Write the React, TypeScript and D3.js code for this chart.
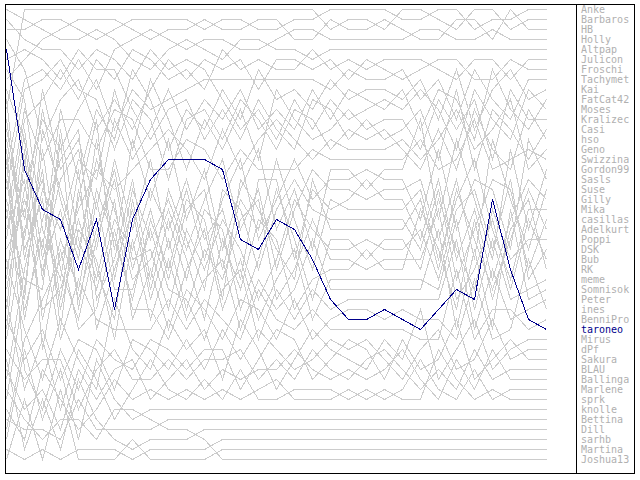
import React from 'react';
import * as d3 from 'd3';

// Player names, in the order of the legend (final standing)
const players = [
  'Anke', 'Barbaros', 'HB', 'Holly', 'Altpap', 'Julicon', 'Froschi', 'Tachymet', 'Kai', 'FatCat42',
  'Moses', 'Kralizec', 'Casi', 'hso', 'Geno', 'Swizzina', 'Gordon99', 'Sasls', 'Suse', 'Gilly',
  'Mika', 'casillas', 'Adelkurt', 'Poppi', 'DSK', 'Bub', 'RK', 'meme', 'Somnisok', 'Peter',
  'ines', 'BenniPro', 'taroneo', 'Mirus', 'dPf', 'Sakura', 'BLAU', 'Ballinga', 'Marlene', 'sprk',
  'knolle', 'Bettina', 'Dill', 'sarhb', 'Martina', 'Joshua13',
];
const highlighted = 'taroneo';

// Ranks of the highlighted player per round
const taroneo = [4, 16, 20, 21, 26, 21, 30, 21, 17, 15, 15, 15, 16, 23, 24, 21, 22, 25, 29, 31, 31, 30, 31, 32, 30, 28, 29, 19, 26, 31, 32];

// Estimated standings of the other players per round
const anke = [3, 2, 1, 1, 2, 3, 2, 1, 1, 1, 1, 2, 1, 1, 2, 2, 1, 1, 0, 0, 0, 0, 1, 1, 0, 0, 2, 1, 1, 0, 0];
const barbaros = [12, 0, 0, 0, 0, 0, 0, 0, 0, 0, 0, 0, 0, 0, 0, 0, 0, 0, 2, 1, 1, 2, 0, 0, 1, 2, 0, 0, 2, 1, 1];
const hb = [8, 6, 4, 2, 1, 1, 1, 2, 3, 2, 2, 1, 2, 2, 1, 1, 3, 3, 1, 2, 2, 1, 2, 3, 3, 1, 1, 3, 0, 2, 2];
const holly = [18, 10, 7, 9, 5, 8, 4, 3, 2, 3, 4, 3, 3, 4, 4, 3, 2, 2, 3, 3, 3, 3, 3, 2, 2, 3, 3, 2, 3, 3, 3];
const altpap = [0, 1, 2, 3, 3, 2, 3, 5, 6, 4, 3, 4, 5, 3, 3, 4, 4, 5, 4, 4, 4, 4, 4, 4, 4, 4, 4, 4, 4, 4, 4];
const julicon = [25, 14, 11, 6, 9, 5, 7, 4, 5, 7, 6, 8, 4, 6, 5, 6, 6, 4, 6, 5, 6, 5, 5, 5, 6, 8, 5, 6, 7, 5, 5];
const froschi = [5, 8, 15, 10, 7, 13, 9, 12, 8, 5, 7, 5, 7, 5, 8, 5, 5, 7, 5, 7, 5, 6, 7, 6, 5, 5, 7, 8, 5, 6, 6];
const tachymet = [30, 20, 13, 17, 11, 7, 12, 8, 11, 9, 8, 7, 7, 7, 7, 7, 7, 7, 8, 6, 7, 7, 6, 10, 6, 12, 5, 9, 12, 6, 7];
const kai = [33, 18, 26, 12, 19, 10, 14, 6, 9, 13, 10, 12, 8, 11, 6, 9, 8, 10, 7, 9, 8, 8, 9, 6, 12, 7, 13, 8, 6, 10, 8];
const fatcat42 = [14, 24, 9, 19, 14, 22, 11, 16, 13, 8, 12, 9, 11, 8, 12, 10, 12, 8, 11, 8, 9, 10, 8, 13, 7, 10, 14, 6, 11, 13, 9];
const moses = [2, 3, 5, 4, 6, 4, 5, 7, 4, 6, 5, 6, 9, 12, 10, 13, 9, 12, 9, 11, 10, 9, 10, 7, 11, 14, 8, 12, 14, 8, 10];
const kralizec = [38, 29, 20, 25, 16, 19, 8, 14, 7, 11, 15, 11, 14, 10, 14, 8, 11, 14, 12, 10, 12, 11, 11, 14, 9, 13, 10, 15, 9, 12, 11];
const casi = [6, 4, 6, 7, 4, 6, 6, 10, 14, 10, 9, 14, 10, 13, 9, 12, 14, 9, 10, 13, 11, 13, 12, 11, 15, 9, 16, 11, 13, 15, 12];
const hso = [20, 11, 8, 5, 8, 9, 16, 9, 12, 15, 11, 10, 13, 9, 11, 14, 10, 11, 14, 12, 13, 12, 14, 16, 12, 16, 12, 14, 16, 11, 13];
const geno = [42, 36, 31, 27, 23, 18, 20, 17, 15, 12, 14, 16, 12, 15, 13, 11, 13, 16, 13, 14, 14, 14, 13, 15, 14, 11, 15, 13, 10, 15, 14];
const swizzina = [23, 13, 17, 14, 12, 16, 10, 11, 17, 14, 13, 15, 15, 14, 16, 15, 16, 15, 16, 15, 15, 15, 16, 13, 17, 15, 12, 17, 15, 14, 15];
const gordon99 = [15, 26, 11, 22, 28, 15, 25, 13, 21, 12, 24, 15, 27, 19, 13, 25, 18, 28, 17, 17, 19, 17, 16, 12, 24, 13, 20, 29, 14, 23, 16];
const sasls = [29, 15, 27, 20, 15, 26, 16, 24, 16, 26, 17, 29, 20, 14, 27, 21, 15, 22, 18, 18, 18, 18, 18, 24, 14, 26, 16, 21, 28, 13, 17];
const suse = [34, 25, 19, 31, 21, 12, 29, 19, 25, 18, 28, 20, 14, 26, 19, 30, 22, 16, 19, 19, 19, 19, 20, 16, 27, 18, 29, 13, 20, 27, 18];
const gilly = [9, 16, 29, 15, 26, 29, 22, 27, 18, 23, 15, 26, 21, 30, 16, 18, 27, 21, 21, 20, 18, 20, 21, 26, 17, 30, 21, 31, 23, 16, 19];
const mika = [39, 31, 16, 28, 33, 24, 18, 29, 22, 30, 22, 17, 28, 21, 25, 14, 23, 28, 20, 21, 21, 21, 21, 18, 29, 22, 15, 24, 30, 21, 20];
const casillas = [16, 34, 23, 18, 13, 31, 27, 18, 28, 16, 27, 31, 18, 24, 29, 24, 17, 23, 22, 22, 22, 22, 22, 28, 19, 31, 25, 17, 19, 29, 21];
const adelkurt = [24, 19, 33, 25, 30, 20, 24, 32, 23, 29, 19, 24, 32, 18, 22, 27, 30, 19, 23, 23, 23, 23, 23, 20, 30, 19, 27, 32, 25, 18, 22];
const poppi = [11, 28, 18, 34, 20, 27, 32, 22, 30, 21, 31, 22, 25, 33, 27, 20, 25, 31, 24, 24, 26, 24, 23, 30, 21, 27, 32, 21, 28, 24, 23];
const dsk = [28, 21, 28, 22, 31, 23, 17, 27, 26, 33, 26, 29, 23, 27, 32, 28, 21, 26, 25, 25, 25, 25, 25, 25, 31, 23, 19, 27, 17, 30, 24];
const bub = [7, 12, 24, 29, 18, 34, 27, 23, 31, 25, 33, 27, 30, 24, 20, 32, 29, 24, 26, 26, 27, 25, 26, 29, 23, 32, 30, 23, 31, 22, 25];
const rk = [19, 32, 14, 21, 27, 16, 21, 30, 27, 20, 29, 34, 26, 31, 24, 26, 33, 29, 27, 27, 25, 27, 28, 23, 27, 33, 22, 33, 24, 20, 26];
const meme = [26, 22, 32, 30, 23, 28, 20, 34, 27, 34, 30, 25, 33, 28, 34, 30, 26, 33, 28, 28, 28, 28, 28, 31, 32, 24, 33, 26, 32, 31, 27];
const somnisok = [13, 27, 21, 32, 25, 26, 34, 25, 33, 28, 35, 30, 27, 35, 30, 33, 31, 27, 29, 29, 29, 29, 29, 32, 25, 34, 28, 34, 21, 32, 28];
const peter = [21, 29, 30, 16, 32, 21, 30, 31, 24, 31, 32, 35, 31, 29, 35, 31, 34, 30, 30, 30, 30, 30, 30, 33, 33, 26, 34, 29, 33, 33, 29];
const ines = [31, 17, 34, 26, 34, 32, 23, 33, 32, 35, 31, 33, 35, 32, 33, 36, 32, 35, 31, 31, 31, 31, 31, 34, 34, 35, 31, 35, 34, 28, 30];
const bennipro = [22, 33, 25, 35, 29, 33, 33, 35, 34, 32, 36, 32, 34, 36, 31, 34, 36, 32, 32, 32, 32, 32, 32, 35, 35, 30, 35, 33, 32, 34, 31];
const mirus = [27, 35, 38, 33, 36, 40, 31, 36, 39, 33, 38, 34, 40, 33, 37, 41, 38, 33, 36, 35, 37, 34, 36, 33, 38, 35, 33, 37, 35, 34, 33];
const dpf = [32, 37, 33, 39, 35, 37, 41, 35, 36, 40, 36, 39, 34, 38, 34, 36, 39, 38, 33, 34, 33, 36, 38, 35, 34, 37, 36, 33, 36, 35, 34];
const sakura = [17, 38, 40, 36, 41, 36, 37, 39, 34, 36, 40, 37, 36, 41, 37, 35, 36, 40, 37, 33, 35, 38, 34, 37, 36, 33, 38, 36, 34, 36, 35];
const blau = [35, 39, 35, 38, 42, 38, 34, 40, 39, 37, 40, 38, 37, 37, 40, 38, 39, 37, 37, 37, 36, 35, 37, 39, 37, 39, 35, 38, 37, 37, 36];
const ballinga = [36, 41, 38, 43, 39, 40, 38, 37, 42, 40, 38, 41, 39, 40, 38, 39, 37, 39, 38, 36, 38, 37, 35, 38, 40, 36, 39, 35, 38, 38, 37];
const marlene = [30, 40, 33, 42, 35, 39, 43, 41, 38, 41, 42, 40, 41, 39, 42, 41, 40, 41, 39, 39, 39, 40, 39, 36, 39, 40, 37, 40, 39, 39, 38];
const sprk = [40, 43, 36, 41, 43, 41, 40, 42, 40, 42, 41, 43, 40, 42, 41, 40, 42, 41, 40, 38, 40, 39, 40, 40, 35, 38, 40, 39, 40, 40, 39];
const knolle = [44, 36, 42, 38, 43, 37, 42, 43, 42, 42, 42, 43, 42, 42, 42, 42, 42, 42, 41, 40, 40, 40, 40, 42, 42, 41, 42, 40, 41, 40, 40];
const bettina = [41, 42, 43, 44, 41, 43, 43, 44, 43, 43, 43, 43, 42, 42, 42, 42, 42, 42, 42, 41, 41, 41, 41, 42, 43, 42, 42, 42, 42, 41, 41];
const dill = [35, 44, 38, 45, 40, 42, 44, 45, 44, 44, 44, 44, 43, 43, 43, 43, 43, 43, 43, 42, 42, 42, 42, 43, 44, 43, 43, 43, 43, 42, 42];
const sarhb = [45, 45, 44, 46, 44, 44, 45, 46, 45, 45, 45, 45, 44, 44, 44, 44, 44, 44, 44, 43, 43, 43, 43, 44, 45, 44, 44, 44, 44, 43, 43];
const martina = [46, 40, 46, 39, 46, 45, 46, 44, 46, 46, 46, 46, 45, 45, 45, 45, 45, 45, 45, 44, 44, 44, 44, 45, 46, 45, 45, 45, 45, 44, 44];
const joshua13 = [38, 41, 43, 42, 42, 43, 42, 42, 42, 43, 43, 44, 47, 47, 47, 47, 47, 47, 47, 47, 47, 47, 47, 47, 47, 47, 47, 47, 47, 47, 47];

const standings: number[][] = [
  anke, barbaros, hb, holly, altpap, julicon, froschi, tachymet, kai, fatcat42,
  moses, kralizec, casi, hso, geno, swizzina, gordon99, sasls, suse, gilly,
  mika, casillas, adelkurt, poppi, dsk, bub, rk, meme, somnisok, peter,
  ines, bennipro, taroneo, mirus, dpf, sakura, blau, ballinga, marlene, sprk,
  knolle, bettina, dill, sarhb, martina, joshua13,
];

const ROUNDS = taroneo.length;
const HI = players.indexOf(highlighted);

// Order the standings of each round into ranks (0 = top); the highlighted player keeps its read ranks.
function buildRanks(): number[][] {
  const ranks = players.map(() => new Array<number>(ROUNDS).fill(0));
  for (let t = 0; t < ROUNDS; t++) {
    const fixed = taroneo[t];
    const others = d3.range(players.length).filter((i) => i !== HI);
    others.sort((a, b) => standings[a][t] - standings[b][t] || a - b);
    let slot = 0;
    for (const i of others) {
      if (slot === fixed) slot++;
      ranks[i][t] = slot;
      slot++;
    }
    ranks[HI][t] = fixed;
  }
  return ranks;
}

const GRAY = '#cccccc';
const BLUE = '#00008b';
const LABEL = '#b0b0b0';

export default function App() {
  const ranks = buildRanks();
  const x = d3.scaleLinear().domain([0, ROUNDS - 1]).range([6.5, 546.5]);
  const y = d3.scaleLinear().domain([0, players.length - 1]).range([9.5, 459.5]);
  const line = d3
    .line<number>()
    .x((_, i) => x(i))
    .y((d) => y(d));

  const order = d3.range(players.length).filter((i) => i !== HI);

  return (
    <svg
      width={640}
      height={480}
      style={{ position: 'absolute', left: 0, top: 0, background: '#ffffff' }}
    >
      <rect x={0} y={0} width={640} height={480} fill="#ffffff" />
      <g shapeRendering="crispEdges">
        {order.map((i) => (
          <path key={players[i]} d={line(ranks[i]) || ''} fill="none" stroke={GRAY} strokeWidth={1} />
        ))}
        <path d={line(ranks[HI]) || ''} fill="none" stroke={BLUE} strokeWidth={1} />
      </g>
      <g shapeRendering="crispEdges">
        <rect x={5.5} y={4.5} width={629} height={469} fill="none" stroke="#000" strokeWidth={1} />
        <line x1={576.5} x2={576.5} y1={4.5} y2={473.5} stroke="#000" strokeWidth={1} />
      </g>
      <g fontFamily="'DejaVu Sans Mono', monospace" fontSize={10}>
        {players.map((name, i) => (
          <text key={name} x={581} y={y(i)} dy="0.35em" fill={i === HI ? BLUE : LABEL}>
            {name}
          </text>
        ))}
      </g>
    </svg>
  );
}
